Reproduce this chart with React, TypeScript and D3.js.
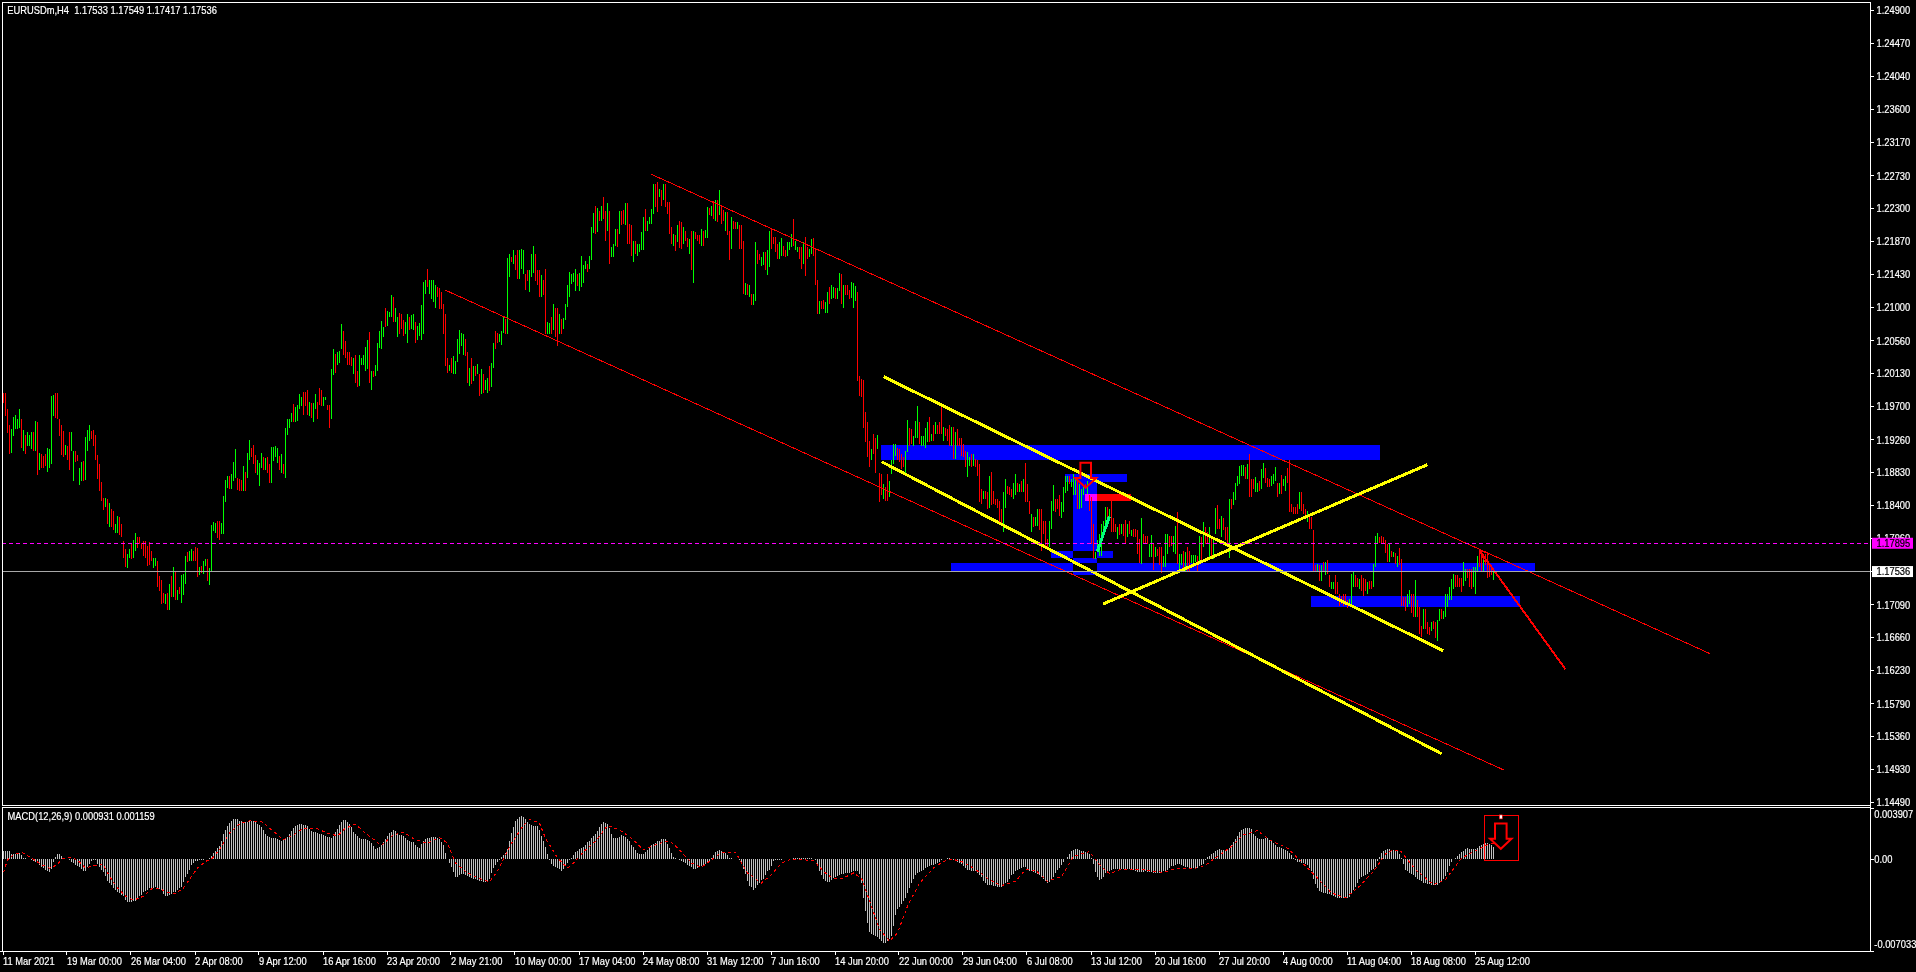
import React from "react";
import * as d3 from "d3";

// Prices are in 1/10000 (11988 = 1.1988). Each bar is a triple: high, low, up(1)/down(0).
const barsMarApr = [
11988,11975,0,11988,11957,0,11966,11935,0,11946,11907,0,11940,11909,1,11956,11931,1,11959,11940,1,11953,11940,1,11966,11942,1,11953,11916,0,
11939,11911,1,11933,11907,0,11936,11918,1,11933,11918,1,11936,11914,1,11937,11912,0,11951,11911,1,11949,11880,0,11909,11887,1,11907,11889,0,
11905,11889,0,11907,11892,0,11916,11884,1,11914,11889,1,11984,11894,1,11985,11957,1,11987,11955,0,11987,11954,0,11954,11931,0,11946,11906,0,
11938,11903,0,11919,11906,1,11918,11900,0,11936,11887,0,11936,11911,1,11911,11872,1,11911,11897,0,11906,11898,0,11889,11867,1,11897,11872,1,
11898,11872,0,11930,11873,1,11939,11911,1,11945,11924,1,11938,11927,0,11939,11918,0,11932,11900,0,11906,11874,0,11894,11859,0,11871,11846,0,
11850,11834,0,11849,11838,1,11848,11815,0,11843,11811,1,11835,11811,0,11832,11808,0,11816,11804,1,11826,11803,1,11824,11801,0,11816,11798,0,
11793,11771,0,11782,11759,0,11776,11757,1,11783,11771,1,11789,11770,0,11795,11771,1,11804,11780,1,11798,11784,0,11798,11789,0,11791,11783,0,
11793,11773,0,11793,11771,0,11786,11760,0,11792,11762,0,11780,11767,0,11771,11757,1,11771,11760,1,11767,11732,0,11747,11727,0,11742,11710,0,
11725,11712,0,11724,11710,1,11725,11703,0,11736,11703,1,11747,11719,0,11759,11719,1,11754,11716,0,11729,11716,1,11732,11723,0,11749,11711,1,
11750,11722,1,11773,11737,1,11778,11765,0,11780,11767,1,11782,11767,1,11780,11767,0,11785,11767,0,11784,11746,0,11759,11749,1,11760,11751,0,
11767,11750,1,11770,11760,1,11769,11740,0,11757,11735,1,11814,11754,1,11818,11806,1,11817,11804,1,11820,11797,0,11820,11794,0,11817,11802,1,
];
const barsAprMay = [
11852,11802,1,11873,11845,1,11878,11863,1,11878,11861,0,11881,11862,1,11897,11872,1,11914,11876,1,11876,11860,0,11874,11859,0,11873,11859,0,
11892,11859,1,11884,11859,0,11909,11876,1,11926,11900,1,11916,11903,0,11919,11894,0,11906,11882,0,11900,11880,1,11896,11865,1,11909,11889,1,
11903,11886,0,11902,11886,1,11903,11883,0,11894,11869,0,11917,11870,1,11917,11898,1,11918,11903,1,11915,11896,1,11905,11887,0,11908,11882,1,
11894,11881,0,11941,11876,1,11954,11933,1,11954,11942,1,11961,11950,1,11973,11949,0,11969,11950,1,11972,11951,1,11986,11967,1,11983,11970,1,
11989,11959,0,11989,11970,0,11992,11959,0,11976,11957,1,11975,11955,0,11975,11949,1,11986,11966,1,11976,11954,0,11994,11972,0,11992,11970,0,
11982,11970,1,11982,11978,1,11972,11965,0,11972,11941,0,12019,11953,1,12046,12011,1,12039,12014,0,12041,12025,1,12043,12027,1,12078,12045,1,
12069,12037,0,12056,12034,0,12042,12024,0,12042,12025,0,12035,12023,0,12034,12012,1,12038,12001,0,12016,11995,0,12037,11997,1,12034,12025,1,
12037,12025,1,12048,12016,1,12057,12019,1,12068,12001,0,12017,11992,1,12016,12009,0,12025,12010,1,12054,12016,1,12069,12047,1,12082,12045,1,
12075,12061,1,12100,12074,0,12096,12076,1,12094,12087,1,12116,12087,1,12114,12081,0,12100,12081,1,12087,12061,1,12093,12065,0,12092,12072,0,
12083,12063,0,12081,12065,1,12092,12054,1,12087,12070,0,12090,12072,1,12092,12070,1,12081,12054,0,12076,12057,1,12080,12063,1,12103,12057,1,
12134,12065,1,12136,12118,1,12150,12127,0,12136,12118,1,12136,12111,1,12136,12107,1,12129,12100,1,12127,12114,0,12126,12098,0,12120,12098,0,
12105,12065,0,12092,12023,0,12034,12014,0,12025,12016,1,12034,12014,0,12036,12012,1,12030,12012,1,12058,12029,1,12071,12039,1,12067,12049,1,
12065,12038,1,12058,12036,0,12041,12001,0,12021,11997,1,12034,11999,0,12023,12003,1,12023,12010,0,12026,12012,1,12012,11984,0,12019,11986,1,
12012,11988,0,12005,11992,1,12008,11988,1,12023,11990,0,12027,11995,1,12054,12021,1,12069,12046,0,12067,12054,0,12065,12055,1,12069,12051,1,
];
const barsMayJun = [
12087,12066,1,12085,12065,0,12165,12065,1,12170,12140,1,12167,12160,0,12176,12157,1,12169,12149,0,12175,12138,0,12175,12138,1,12177,12151,1,
12175,12144,1,12144,12123,0,12149,12135,0,12149,12121,1,12170,12140,1,12181,12146,1,12170,12135,0,12149,12129,0,12149,12114,0,12143,12114,1,
12136,12116,0,12151,12065,0,12081,12065,1,12079,12065,1,12088,12065,0,12105,12071,1,12100,12061,0,12100,12050,0,12091,12065,1,12085,12065,0,
12086,12072,1,12105,12083,1,12129,12101,1,12147,12114,1,12144,12131,1,12146,12133,1,12151,12122,1,12144,12128,0,12146,12122,1,12168,12127,1,
12156,12132,1,12161,12151,1,12157,12147,0,12168,12151,1,12206,12162,1,12224,12198,1,12233,12196,0,12231,12199,1,12227,12214,0,12233,12214,1,
12245,12216,0,12227,12187,0,12238,12201,1,12227,12157,0,12179,12166,1,12184,12167,1,12203,12181,1,12203,12179,0,12227,12197,1,12227,12208,0,
12228,12210,0,12238,12208,1,12238,12184,0,12210,12183,0,12208,12168,0,12187,12160,1,12187,12170,0,12184,12168,1,12184,12173,1,12199,12175,1,
12219,12175,1,12230,12201,0,12214,12201,1,12219,12210,1,12230,12210,1,12262,12223,1,12262,12232,0,12265,12225,0,12256,12245,1,12254,12234,0,
12262,12241,1,12262,12232,0,12239,12223,0,12239,12197,0,12206,12184,0,12197,12181,1,12195,12174,0,12208,12186,1,12214,12178,0,12212,12177,0,
12206,12184,1,12201,12187,0,12192,12179,0,12190,12170,1,12200,12149,0,12201,12132,1,12199,12190,0,12195,12188,0,12195,12184,0,12203,12181,1,
12201,12181,0,12202,12192,1,12232,12192,1,12231,12222,0,12234,12220,1,12240,12216,0,12241,12214,1,12241,12212,0,12254,12221,1,12234,12210,0,
12228,12214,0,12225,12201,1,12225,12195,0,12201,12162,0,12219,12177,1,12214,12203,0,12212,12203,0,12213,12203,1,12208,12177,0,12208,12177,0,
12188,12118,0,12132,12117,1,12131,12117,0,12129,12114,1,12118,12103,0,12118,12103,1,12186,12109,1,12175,12157,0,12170,12162,0,12167,12155,1,
12173,12156,1,12173,12149,0,12175,12143,1,12200,12153,1,12203,12177,0,12193,12184,0,12193,12173,0,12184,12164,0,12186,12164,1,12192,12168,1,
12181,12168,0,12175,12166,0,12186,12168,1,12186,12175,1,12197,12179,1,12216,12181,0,12188,12175,1,12179,12173,1,12179,12164,0,12179,12151,0,
12186,12157,1,12193,12142,0,12179,12164,0,12177,12167,1,12190,12170,1,12192,12168,0,12177,12129,0,12136,12091,0,12109,12091,1,12109,12098,0,
12110,12098,0,12107,12093,1,12120,12093,1,12127,12104,0,12130,12111,1,12127,12113,1,12125,12111,0,12125,12111,1,12146,12122,1,12144,12104,0,
12130,12100,1,12129,12116,0,12129,12117,0,12123,12111,0,12133,12113,1,12132,12100,1,12128,12109,1,12121,12004,0,
];
const barsJunJul = [
12010,11984,0,12006,11983,0,12005,11942,0,11963,11923,0,11950,11904,0,11925,11890,0,11914,11899,1,11934,11907,0,11929,11883,0,11932,11914,1,
11883,11844,0,11881,11853,0,11868,11848,1,11864,11846,0,11881,11846,0,11872,11851,1,11899,11881,1,11921,11894,1,11921,11905,1,11916,11899,0,
11914,11897,0,11907,11888,0,11903,11890,0,11912,11881,1,11952,11910,1,11942,11918,0,11940,11921,0,11931,11918,1,11951,11929,1,11970,11929,1,
11950,11921,0,11931,11918,1,11931,11918,1,11942,11916,1,11949,11923,1,11956,11923,0,11934,11925,1,11945,11925,0,11949,11934,1,11945,11934,0,
11949,11934,0,11971,11934,0,11943,11925,1,11942,11931,0,11940,11925,0,11945,11918,0,11943,11918,1,11943,11901,0,11936,11901,1,11940,11918,0,
11929,11918,0,11929,11905,0,11921,11904,0,11912,11890,0,11910,11877,1,11904,11892,1,11907,11890,0,11908,11892,1,11901,11890,0,11899,11879,0,
11894,11844,0,11861,11842,0,11859,11848,1,11859,11848,0,11857,11835,0,11878,11837,1,11884,11840,0,11859,11842,0,11848,11840,0,11848,11837,0,
11846,11815,0,11835,11813,0,11857,11805,1,11875,11837,1,11866,11855,0,11864,11853,0,11861,11851,0,11870,11848,1,11881,11853,1,11870,11857,0,
11868,11857,1,11872,11857,0,11875,11857,1,11895,11844,0,11868,11844,0,11846,11829,0,11828,11805,1,11824,11811,0,11824,11813,1,11835,11813,1,
11835,11807,0,11835,11780,0,11820,11802,0,11820,11785,0,11796,11785,0,11820,11785,1,11846,11809,1,11867,11833,1,11848,11831,0,11848,11835,0,
11853,11826,0,11844,11823,1,11864,11831,1,11879,11856,1,11879,11859,1,11879,11868,0,11875,11864,1,11881,11853,1,11875,11853,1,11875,11835,0,
11868,11835,1,11861,11837,1,11864,11853,1,11868,11861,0,11872,11855,1,11853,11833,0,11851,11789,0,11815,11770,0,11778,11770,1,11794,11778,1,
11802,11774,1,11815,11774,1,11820,11798,1,11838,11811,1,11838,11824,0,11835,11822,1,11846,11805,0,11823,11805,0,11815,11805,0,11812,11796,1,
11815,11801,0,11815,11802,1,11815,11800,0,11821,11791,0,11815,11798,1,11820,11802,0,11808,11800,1,11809,11798,0,11809,11798,0,11807,11776,0,
11796,11764,0,11823,11763,1,11802,11789,0,11800,11789,0,11800,11789,0,11789,11772,1,11801,11772,1,11789,11755,0,11785,11772,1,11783,11773,0,
11785,11761,0,11785,11751,0,11774,11759,1,11802,11759,1,11802,11776,1,11800,11785,0,11800,11787,0,11800,11778,1,11813,11776,1,11831,11763,0,
11776,11754,1,
];
const barsAugust = [
11776,11761,1,11780,11754,0,11778,11754,1,11785,11752,0,11780,11754,0,11775,11764,1,11775,11759,1,11775,11765,1,11774,11754,0,11800,11765,1,
11799,11767,0,11818,11785,1,11811,11789,0,11805,11789,0,11812,11772,1,11800,11774,0,11798,11770,1,11837,11802,1,11841,11809,0,11822,11809,0,
11826,11798,1,11823,11807,0,11811,11794,0,11811,11787,0,11848,11771,1,11848,11835,0,11858,11840,1,11870,11847,1,11879,11866,1,11892,11868,1,
11893,11878,1,11893,11878,1,11891,11875,0,11894,11875,1,11907,11851,0,11875,11851,0,11875,11861,0,11877,11857,1,11870,11857,1,11872,11859,0,
11888,11861,1,11896,11876,1,11889,11870,0,11876,11864,0,11875,11864,0,11879,11866,1,11881,11868,1,11891,11872,1,11869,11851,0,11870,11855,1,
11880,11855,0,11875,11866,1,11879,11859,1,11889,11870,0,11899,11831,0,11842,11831,0,11838,11829,0,11838,11829,0,11842,11829,0,11857,11835,1,
11857,11832,0,11842,11829,0,11835,11826,0,11833,11818,1,11826,11809,0,11824,11809,0,11808,11753,0,11761,11753,0,11763,11754,1,11761,11741,0,
11761,11741,1,11765,11752,0,11765,11749,1,11768,11750,0,11748,11732,0,11739,11730,1,11739,11730,1,11748,11723,0,11739,11723,0,11724,11708,0,
11721,11710,0,11724,11708,0,11724,11710,0,11715,11705,0,11717,11708,1,11750,11710,1,11752,11732,1,11748,11732,0,11745,11732,0,11743,11730,1,
11748,11728,0,11745,11721,0,11743,11728,0,11739,11724,1,11741,11730,0,11740,11730,0,11763,11732,1,11800,11759,1,11803,11791,1,11798,11791,0,
11800,11791,0,11798,11789,0,11794,11777,0,11789,11766,0,11789,11766,1,11780,11772,0,11778,11772,1,11777,11763,0,11774,11759,1,11784,11762,0,
11770,11708,0,11719,11708,0,11719,11701,0,11723,11706,1,11729,11710,1,11724,11699,0,11724,11693,0,11742,11693,1,11715,11693,0,11706,11671,0,
11682,11667,0,11704,11678,1,11704,11678,0,11686,11671,0,11680,11670,0,11686,11675,1,11688,11678,0,11686,11666,0,11689,11662,1,11704,11688,1,
11704,11691,0,11701,11691,1,11724,11693,1,11724,11706,1,11732,11715,1,11743,11715,1,11750,11730,1,11748,11732,0,11748,11732,0,11745,11732,0,
11745,11726,0,11765,11734,1,11756,11741,1,11756,11745,0,11756,11732,0,11756,11730,0,11759,11732,1,11759,11724,1,11774,11752,1,11780,11759,0,
11774,11754,0,11776,11754,1,11776,11761,0,11778,11745,0,11763,11746,0,11761,11748,0,11755,11742,1,
];

// MACD histogram per bar, in 1e-5.
const macdFirst = [
64,64,64,60,40,38,38,48,50,28,10,6,3,2,-8,-13,-20,-30,-45,-62,-72,-85,-92,-100,-76,-20,18,35,41,25,12,3,-2,-8,-20,-33,-42,-55,-64,-78,
-92,-95,-60,-35,-12,-5,-10,-38,-60,-80,-100,-130,-165,-185,-200,-220,-235,-250,-262,-272,-285,-310,-330,-330,-325,-318,-318,-300,-285,-278,
-255,-245,-235,-225,-222,-218,-215,-220,-230,-240,-265,-282,-285,-275,-265,-255,-250,-240,-225,-215,-175,-135,-115,-85,-42,-30,-18,-12,-10,-8,
-5,-2,2,10,20,45,65,85,100,140,190,220,252,275,290,305,308,305,295,290,285,280,285,292,292,288,280,270,260,248,
225,195,175,168,165,165,165,155,145,138,145,150,170,190,215,235,250,258,265,268,262,258,250,230,218,210,208,202,195,192,
185,178,172,168,160,175,210,232,262,285,298,300,285,268,245,210,190,175,160,155,152,152,145,138,125,100,75,85,95,105,
130,152,175,200,210,220,215,195,185,182,178,165,145,135,130,128,110,95,88,115,140,150,160,165,170,172,172,160,150,130,
105,50,0,-30,-62,-100,-135,-140,-125,-118,-112,-125,-128,-135,-142,-150,-155,-160,-165,-170,-172,-175,-178,-155,-110,-72,-45,-25,-8,15,
28,50,76,140,200,245,290,308,320,330,325,305,285,270,262,255,255,250,220,178,140,90,40,-10,-38,-50,-60,-68,-78,-88,
-78,-50,-30,-5,12,32,55,65,75,85,92,110,128,140,160,175,195,215,245,272,280,275,268,240,190,165,165,165,170,182,
180,170,155,135,110,90,70,45,35,38,40,55,70,90,105,115,125,135,142,150,155,155,115,85,50,18,5,2,-5,-12,
-22,-30,-42,-50,-62,-75,-75,-68,-62,-55,-45,-38,-22,-12,10,30,52,62,68,62,55,50,30,10,6,4,2,0,-8,-20,
-75,-115,-170,-205,-215,-235,-225,-195,-180,-160,-150,-125,-95,-80,-50,-15,-10,-8,-5,-5,-3,-2,0,2,4,6,8,8,
];
const macdSecond = [
5,5,5,5,5,5,5,3,-10,-50,-95,-125,-150,-165,-175,-178,-160,-148,-140,-130,-125,-118,-115,-110,-108,-105,-100,-95,-90,-90,-115,-180,
-300,-400,-490,-560,-575,-580,-590,-600,-610,-625,-640,-640,-625,-610,-590,-510,-430,-385,-370,-345,-320,-295,-260,-220,-180,-150,-125,-110,-100,-90,
-80,-72,-62,-55,-48,-42,-38,-28,-20,-10,-2,3,5,5,0,-8,-15,-22,-30,-40,-55,-70,-82,-85,-88,-90,-95,-110,-125,-140,
-165,-185,-195,-200,-200,-205,-208,-212,-215,-215,-200,-180,-175,-150,-125,-115,-95,-85,-78,-70,-62,-62,-75,-88,-95,-100,-108,-115,-125,-138,
-155,-165,-185,-175,-155,-135,-105,-85,-65,-45,-25,0,15,35,62,72,80,75,70,62,58,52,48,35,12,-40,-100,-140,-158,-155,
-135,-110,-100,-90,-80,-75,-76,-76,-76,-78,-76,-75,-75,-76,-78,-85,-92,-100,-100,-100,-96,-95,-96,-100,-102,-105,-105,-106,-104,-100,
-95,-92,-80,-65,-55,-50,-45,-40,-38,-42,-50,-58,-62,-65,-68,-70,-70,-65,-55,-42,-35,-10,15,25,40,50,60,70,78,72,
72,70,80,88,105,130,150,180,205,225,232,235,240,240,230,190,175,160,150,152,155,158,158,145,135,125,110,95,90,85,
75,70,60,50,30,8,-10,-20,-25,-30,-30,-35,-45,-70,-95,-150,-190,-220,-245,-255,-258,-262,-265,-268,-272,-280,-290,-295,-298,-300,
-300,-298,-295,-290,-265,-240,-210,-180,-155,-140,-130,-120,-112,-100,-85,-75,-60,-15,15,45,65,72,76,75,72,70,65,62,40,8,
-40,-80,-95,-105,-115,-120,-135,-150,-160,-170,-180,-185,-190,-192,-195,-198,-198,-195,-185,-178,-150,-130,-100,-50,-20,-3,8,20,40,52,
62,78,82,80,78,76,80,88,100,108,115,122,122,118,105,93,
];
// Signal line readings: bar number, value in 1e-5.
const signalBars = [0,2,5,9,14,19,23,27,29,33,37,41,46,50,53,57,61,65,70,74,78,81,86,90,97,101,104,108,113,118,123,129,134,140,145,150,157,162,167,171,176,181,189,195,200,206,212,218,222,226,231,236,243,247,254,259,263,268,271,277,282,285,291,296,302,308,315,320,326,333,338,344,349,354,359,366,372,379,384,389,394,398,405,410,415,420,425,429,434,438,443,447,452,458,465,470,474,479,485,493,499,506,511,516,522,529,535,543,548,553,559,566,572,580,587,594,600,606,614,620,627,633,642,648,657,664,671,678,685,692,698,706,715,721,729,737,743,745];
const signalValues = [-102,-5,33,53,8,-43,-69,-43,0,15,-5,-69,-48,-43,-132,-221,-284,-315,-284,-229,-221,-254,-264,-221,-69,-18,0,71,198,269,292,287,224,147,185,236,231,198,178,236,267,198,104,185,206,147,122,165,122,-30,-94,-137,-175,-94,122,236,305,274,160,8,-69,-30,71,135,257,224,147,71,109,142,71,-30,-64,-5,51,53,-107,-183,-119,-30,0,-5,-10,-94,-152,-145,-107,-145,-361,-538,-627,-564,-361,-183,-69,-18,0,-18,-69,-157,-203,-170,-81,-86,-170,-132,20,58,-43,-112,-76,-76,-86,-102,-69,-76,-56,8,97,185,218,147,84,-5,-145,-259,-297,-208,-94,58,71,-81,-196,-157,8,71,117,116];

const priceTicks = [1.249,1.2447,1.2404,1.236,1.2317,1.2273,1.223,1.2187,1.2143,1.21,1.2056,1.2013,1.197,1.1926,1.1883,1.184,1.1796,1.1753,1.1709,1.1666,1.1623,1.1579,1.1536,1.1493,1.1449];
const dateLabels = ["11 Mar 2021","19 Mar 00:00","26 Mar 04:00","2 Apr 08:00","9 Apr 12:00","16 Apr 16:00","23 Apr 20:00","2 May 21:00","10 May 00:00","17 May 04:00","24 May 08:00","31 May 12:00","7 Jun 16:00","14 Jun 20:00","22 Jun 00:00","29 Jun 04:00","6 Jul 08:00","13 Jul 12:00","20 Jul 16:00","27 Jul 20:00","4 Aug 00:00","11 Aug 04:00","18 Aug 08:00","25 Aug 12:00"];
const macdTicks = [{ v: 0.003907, t: "0.003907" }, { v: 0, t: "0.00" }, { v: -0.007033, t: "-0.007033" }];

const bidPrice = 1.17536;
const alertPrice = 1.17895;

// Zones: first bar, last bar, top price, bottom price, colour
const zones: [number, number, number, number, string][] = [
  [439, 688.3, 11919.3, 11899.6, "#0000ff"],
  [474, 766, 11764.2, 11753, "#0000ff"],
  [535, 547, 11870.7, 11748.4, "#0000ff"],
  [531, 562, 11881.2, 11870.7, "#0000ff"],
  [524, 555, 11780, 11771, "#0000ff"],
  [654, 758.5, 11720.8, 11706.4, "#0000ff"],
  [541, 564, 11854.5, 11845.7, "#ff0000"],
];
// Trend lines: bar, price, bar, price, colour, width
const trends: [number, number, number, number, string, number][] = [
  [324.2, 12275.1, 853.5, 11645, "#ff0000", 1],
  [221, 12123, 750.5, 11492, "#ff0000", 1],
  [440.35, 12009, 720.15, 11648.9, "#ffff00", 3],
  [439.3, 11897.3, 719.3, 11513.4, "#ffff00", 3],
  [550, 11710.3, 712.15, 11893.4, "#ffff00", 3],
  [547.15, 11779, 553.15, 11825, "#00ff7f", 3],
  [738.3, 11780.4, 781.15, 11624.9, "#ff0000", 2],
];

const W = 1916, H = 972;
const LEFT = 2, RIGHT = 1870, TOP = 2, MAIN_BOTTOM = 805, SUB_TOP = 807, SUB_BOTTOM = 951;
const FONT = "'Liberation Sans', Arial, sans-serif";

const bars: { h: number; l: number; up: boolean }[] = [];
[barsMarApr, barsAprMay, barsMayJun, barsJunJul, barsAugust].forEach((a) => {
  for (let k = 0; k + 2 < a.length; k += 3) bars.push({ h: a[k] / 1e4, l: a[k + 1] / 1e4, up: a[k + 2] === 1 });
});
const hist = [...macdFirst, ...macdSecond];

const x = d3.scaleLinear().domain([0, 745]).range([3, 1493]);
const y = d3.scaleLinear().domain([1.249, 1.1449]).range([10.8, 802.8]);
const m = d3.scaleLinear().domain([0.003907, -0.007033]).range([808, 951]);
const px = (v: number) => Math.floor(v) + 0.5;

const signalPath = d3.line<number>().x((b) => x(b) + 0.5).y((_, k) => m(signalValues[k] / 1e5))(signalBars) ?? "";

function Label({ tx, ty, s, fill = "#fff", fx = 0.89 }: { tx: number; ty: number; s: string; fill?: string; fx?: number }) {
  return (
    <text transform={`translate(${tx},${ty}) scale(${fx},1)`} fill={fill} stroke={fill} strokeWidth={0.2} fontFamily={FONT} fontSize={10.5} dominantBaseline="central" style={{ whiteSpace: "pre" }}>
      {s}
    </text>
  );
}

function Arrow({ cx, top, sw, sh, hw, hh }: { cx: number; top: number; sw: number; sh: number; hw: number; hh: number }) {
  const pts = [
    [cx - sw, top], [cx + sw, top], [cx + sw, top + sh], [cx + hw, top + sh], [cx, top + sh + hh], [cx - hw, top + sh], [cx - sw, top + sh],
  ];
  return <polygon points={pts.map((p) => p.join(",")).join(" ")} fill="none" stroke="#ff0000" strokeWidth={2} />;
}

export default function App() {
  const boxX1 = x(740.85), boxX2 = x(757.7), boxY1 = m(0.00334), boxY2 = m(-0.00008);
  const tri = [[738.3, 11780.4], [742.8, 11777], [741.35, 11763.8]].map(([b, p]) => `${x(b)},${y(p / 1e4)}`).join(" ");
  return (
    <svg width={W} height={H} viewBox={`0 0 ${W} ${H}`} style={{ position: "absolute", left: 0, top: 0, background: "#000", display: "block" }}>
      <rect width={W} height={H} fill="#000" />
      {/* Overlapping zones cancel out, as they do on the terminal */}
      {zones.map(([a, b, t, u, c], k) => (
        <rect key={k} x={x(a)} y={y(t / 1e4)} width={x(b) - x(a)} height={y(u / 1e4) - y(t / 1e4)} fill={c} style={{ mixBlendMode: "difference" }} shapeRendering="crispEdges" />
      ))}
      {/* Candles */}
      <g shapeRendering="crispEdges" strokeWidth={1}>
        {bars.map((b, i) => (
          <line key={i} x1={x(i) + 0.5} x2={x(i) + 0.5} y1={y(b.h)} y2={y(b.l)} stroke={b.up ? "#00ff00" : "#ff0000"} />
        ))}
      </g>
      {/* Trend lines */}
      {trends.map(([a, p, b, q, c, w], k) => (
        <line key={k} x1={x(a)} y1={y(p / 1e4)} x2={x(b)} y2={y(q / 1e4)} stroke={c} strokeWidth={w} shapeRendering="crispEdges" />
      ))}
      <polygon points={tri} fill="none" stroke="#ff0000" strokeWidth={1} shapeRendering="crispEdges" />
      <Arrow cx={x(541.35)} top={y(1.1896)} sw={5.3} sh={15.3} hw={10.5} hh={9.6} />
      {/* Horizontal levels */}
      <line x1={LEFT} x2={RIGHT} y1={px(y(alertPrice))} y2={px(y(alertPrice))} stroke="#ff00ff" strokeDasharray="4 3" shapeRendering="crispEdges" />
      <line x1={LEFT} x2={RIGHT} y1={px(y(bidPrice))} y2={px(y(bidPrice))} stroke="#a8a8a8" shapeRendering="crispEdges" />

      {/* MACD */}
      <g shapeRendering="crispEdges" stroke="#c0c0c0">
        {hist.map((v, i) => (
          <line key={i} x1={x(i) + 0.5} x2={x(i) + 0.5} y1={m(0)} y2={m(v / 1e5)} />
        ))}
      </g>
      <path d={signalPath} fill="none" stroke="#ff0000" strokeDasharray="3 3" shapeRendering="crispEdges" />
      <rect x={boxX1} y={boxY1} width={boxX2 - boxX1} height={boxY2 - boxY1} fill="none" stroke="#ff0000" shapeRendering="crispEdges" />
      <rect x={x(748.9) - 1.5} y={boxY1 - 0.5} width={3} height={4} fill="#fff" stroke="#ff0000" strokeWidth={0.6} />
      <Arrow cx={x(748.9)} top={m(0.00272)} sw={5.8} sh={15.3} hw={10.7} hh={10} />

      {/* Frames */}
      <g stroke="#fff" fill="none" shapeRendering="crispEdges">
        <line x1={LEFT} x2={RIGHT} y1={TOP + 0.5} y2={TOP + 0.5} />
        <line x1={LEFT + 0.5} x2={LEFT + 0.5} y1={TOP} y2={MAIN_BOTTOM} />
        <line x1={RIGHT + 0.5} x2={RIGHT + 0.5} y1={TOP} y2={SUB_BOTTOM + 1} />
        <line x1={LEFT} x2={RIGHT} y1={MAIN_BOTTOM + 0.5} y2={MAIN_BOTTOM + 0.5} />
        <line x1={LEFT} x2={RIGHT} y1={SUB_TOP + 0.5} y2={SUB_TOP + 0.5} />
        <line x1={LEFT + 0.5} x2={LEFT + 0.5} y1={SUB_TOP} y2={SUB_BOTTOM} />
        <line x1={0} x2={RIGHT} y1={SUB_BOTTOM + 0.5} y2={SUB_BOTTOM + 0.5} />
      </g>

      {/* Price axis */}
      {priceTicks.map((p) => (
        <g key={p}>
          <line x1={RIGHT} x2={RIGHT + 4} y1={px(y(p))} y2={px(y(p))} stroke="#fff" shapeRendering="crispEdges" />
          <Label tx={1876.5} ty={y(p)} s={p.toFixed(5)} />
        </g>
      ))}
      <rect x={1872} y={y(alertPrice) - 6} width={41} height={11} fill="#ff00ff" />
      <Label tx={1876.5} ty={y(alertPrice)} s={alertPrice.toFixed(5)} fill="#000" />
      <rect x={1872} y={y(bidPrice) - 5} width={41} height={11} fill="#fff" />
      <Label tx={1876.5} ty={y(bidPrice) + 0.5} s={bidPrice.toFixed(5)} fill="#000" />

      {/* MACD axis */}
      {macdTicks.map((t, k) => (
        <g key={k}>
          <line x1={RIGHT} x2={RIGHT + 4} y1={px(m(t.v))} y2={px(m(t.v))} stroke="#fff" shapeRendering="crispEdges" />
          <Label tx={1874.3} ty={k === 0 ? 814 : k === 2 ? 944.5 : m(t.v)} s={t.t} />
        </g>
      ))}

      {/* Time axis */}
      {dateLabels.map((t, k) => (
        <g key={t}>
          <line x1={px(x(k * 32))} x2={px(x(k * 32))} y1={SUB_BOTTOM} y2={SUB_BOTTOM + 4} stroke="#fff" shapeRendering="crispEdges" />
          <Label tx={k === 0 ? 3 : x(k * 32)} ty={961} s={t} />
        </g>
      ))}

      <Label tx={7.3} ty={10.8} s="EURUSDm,H4  1.17533 1.17549 1.17417 1.17536" />
      <Label tx={7.6} ty={816.7} s="MACD(12,26,9) 0.000931 0.001159" />
    </svg>
  );
}
